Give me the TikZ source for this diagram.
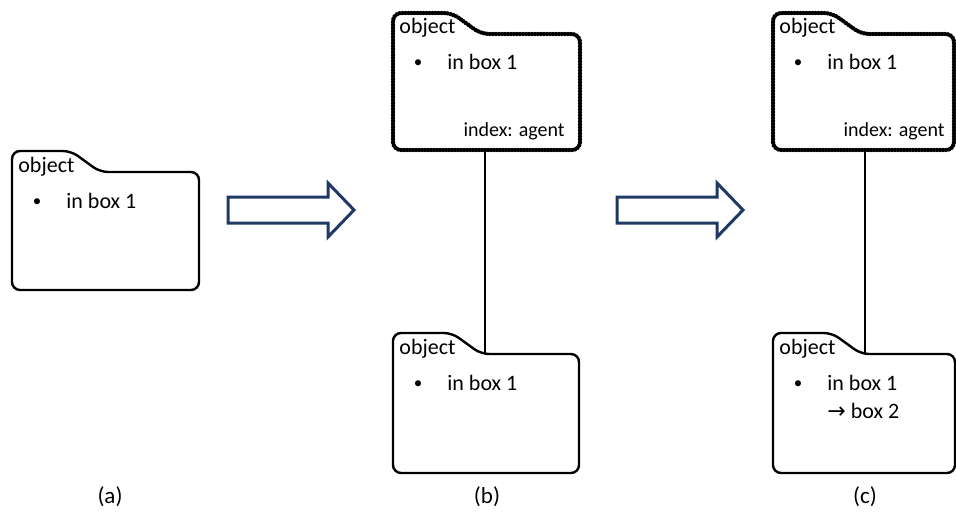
\documentclass[tikz,border=0pt]{standalone}
\usepackage{fontspec}
\setmainfont{Carlito}
\newfontfamily\arrowfont{DejaVu Sans}
\usetikzlibrary{calc}
\definecolor{arrownavy}{HTML}{203864}

\tikzset{
  folderline/.style={line width=1.2pt, rounded corners=4pt},
  agentline/.style={line width=2.2pt, dash pattern=on 0pt off 1.5pt, line cap=round, rounded corners=4pt},
  foldertext/.style={font=\fontsize{11}{13}\selectfont, inner sep=0pt, anchor=base west},
  indextext/.style={font=\fontsize{10}{12}\selectfont, inner sep=0pt, anchor=base east},
  blockarrow/.style={draw=arrownavy, fill=white, line width=1.5pt, line join=miter},
  caption/.style={font=\fontsize{11.5}{13}\selectfont, inner sep=0pt},
  link/.style={line width=1pt}
}

% folder outline with its title and first entry
% #1 style, #2 name, #3 top left corner, #4 width, #5 height
\newcommand{\drawfolder}[5]{
  \begin{scope}[shift={#3}]
    \draw[#1] (0,#5) -- (0,0) -- (59,0) -- (88,21) -- (#4,21) -- (#4,#5) -- cycle;
    \node[foldertext] (#2-title) at (6,21) {object};
    \node[foldertext, anchor=base, font=\fontsize{8.5}{10}\selectfont] (#2-dot) at (25,55) {•};
    \node[foldertext] (#2-item) at (54,57) {in box 1};
    \coordinate (#2-joint) at (92,21);
    \coordinate (#2-foot) at (92,#5);
  \end{scope}
}

\begin{document}
\begin{tikzpicture}[x=0.5pt,y=-0.5pt]
  \useasboundingbox (0,0) rectangle (956,518);

  % (a) the plain object
  \drawfolder{folderline}{a}{(12,151)}{187}{139}

  % (b) agent index above the object
  \drawfolder{agentline}{btop}{(393,13)}{187}{137}
  \node[indextext] (btop-index) at ($(btop-title.base west)+(166,103)$) {index: agent};
  \drawfolder{folderline}{bbot}{(393,333)}{186}{140}
  \draw[link] (btop-foot) -- (bbot-joint);

  % (c) same, with the move to box 2
  \drawfolder{agentline}{ctop}{(773,13)}{181}{137}
  \node[indextext] (ctop-index) at ($(ctop-title.base west)+(166,103)$) {index: agent};
  \drawfolder{folderline}{cbot}{(773,333)}{182}{140}
  \node[foldertext] (cbot-move) at ($(cbot-item.base west)+(0,28)$) {{\arrowfont →} box 2};
  \draw[link] (ctop-foot) -- (cbot-joint);

  % block arrows between the steps
  \foreach \x in {228,617}
    \draw[blockarrow] (\x,197) -- (\x+100,197) -- (\x+100,183) -- (\x+126,210)
      -- (\x+100,237) -- (\x+100,223) -- (\x,223) -- cycle;

  \node[caption] (cap-a) at (110,497) {(a)};
  \node[caption] (cap-b) at (487,497) {(b)};
  \node[caption] (cap-c) at (865,497) {(c)};
\end{tikzpicture}
\end{document}
